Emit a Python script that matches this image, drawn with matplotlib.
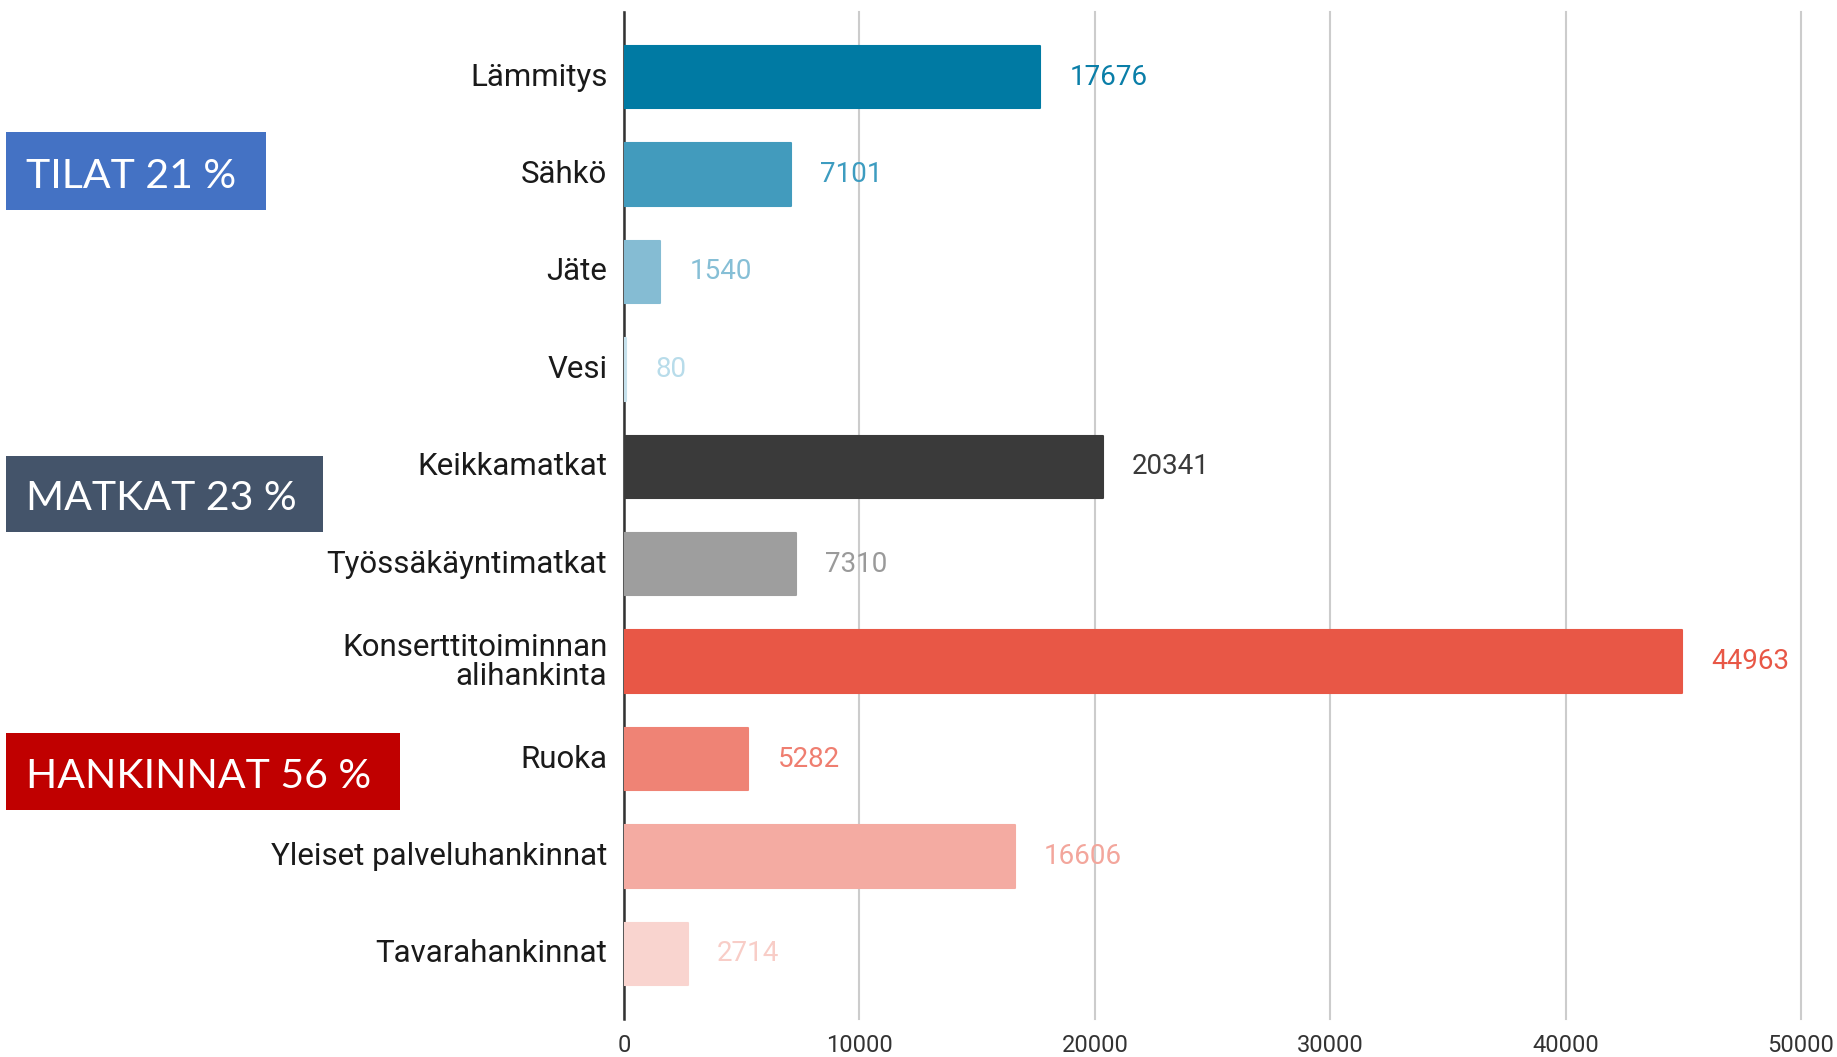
import matplotlib
matplotlib.use('Agg')
import matplotlib.pyplot as plt

plt.rcParams['font.family'] = ['Roboto', 'DejaVu Sans']

# data
categories = ['Lämmitys', 'Sähkö', 'Jäte', 'Vesi', 'Keikkamatkat', 'Työssäkäyntimatkat',
              'Konserttitoiminnan\nalihankinta', 'Ruoka', 'Yleiset palveluhankinnat',
              'Tavarahankinnat']
values = [17676, 7101, 1540, 80, 20341, 7310, 44963, 5282, 16606, 2714]
bar_colors = ['#007aa3', '#429bbd', '#85bcd3', '#c6e1ec', '#3a3a3a', '#9e9e9e',
              '#e85746', '#ef8375', '#f4aba2', '#f9d4cf']
label_colors = ['#0a7ea8', '#3d9cc0', '#86bfd6', '#b8dcea', '#3a3a3a', '#9a9a9a',
                '#e85746', '#ef7e70', '#f3a69c', '#f8cdc7']
xticks = [0, 10000, 20000, 30000, 40000, 50000]

groups = ['TILAT 21 %', 'MATKAT 23 %', 'HANKINNAT 56 %']
group_colors = ['#4472c4', '#44546a', '#c00000']

fig = plt.figure(figsize=(18.37, 10.57), dpi=100)
fig.patch.set_facecolor('white')
ax = fig.add_axes([0.3397, 0.036, 0.6407, 0.9526])

y = list(range(len(categories)))
ax.barh(y, values, height=0.64, color=bar_colors, edgecolor=bar_colors,
        linewidth=1.5, joinstyle='round', zorder=3)

for yi, v, c in zip(y, values, label_colors):
    ax.annotate(str(v), xy=(v, yi), xytext=(21, 0), textcoords='offset points',
                ha='left', va='center', fontsize=20, color=c)

ax.set_ylim(len(categories) - 0.333, -0.667)
ax.set_xlim(0, 50000)
ax.set_yticks(y)
ax.set_yticklabels(categories, fontsize=22.5, color='#1a1a1a', linespacing=1.0,
                   va='center')
ax.set_xticks(xticks)
ax.set_xticklabels([str(t) for t in xticks], fontsize=17, color='#333333')
ax.tick_params(axis='both', length=0)
ax.tick_params(axis='y', pad=12)
ax.tick_params(axis='x', pad=11)

ax.grid(axis='x', color='#cccccc', linewidth=1.5, zorder=0)
for gl in ax.get_xgridlines():
    gl.set_clip_on(False)
for s in ['top', 'right', 'bottom']:
    ax.spines[s].set_visible(False)
ax.spines['left'].set_color('#333333')
ax.spines['left'].set_linewidth(1.8)
ax.spines['left'].set_zorder(2)

# group boxes (pixel positions -> figure fractions)
W, H = 1837, 1057
boxes = [(6, 132, 260, 78), (6, 456, 317, 76), (6, 733, 394, 77)]
for (bx, by, bw, bh), txt, col in zip(boxes, groups, group_colors):
    fig.patches.append(plt.Rectangle((bx / W, 1 - (by + bh) / H), bw / W, bh / H,
                                     transform=fig.transFigure, facecolor=col,
                                     edgecolor='none'))
    fig.text((bx + 20) / W, 1 - (by + bh / 2 + 5) / H, txt, ha='left', va='center',
             fontsize=29.5, color='white', family=['Lato', 'DejaVu Sans'])

plt.savefig('out.png', dpi=100, facecolor='white')
plt.close()
